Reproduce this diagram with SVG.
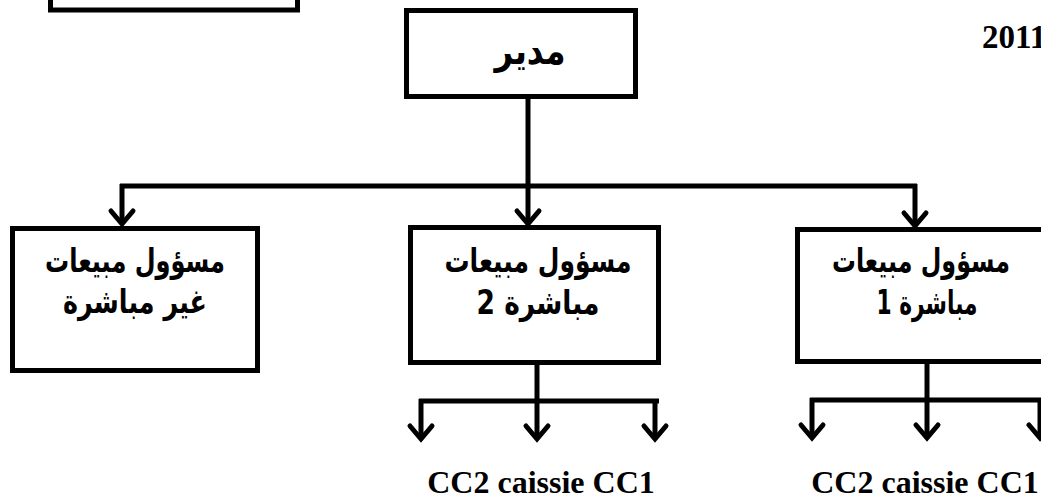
<svg xmlns="http://www.w3.org/2000/svg" width="1041" height="500" viewBox="0 0 1041 500">
  <style>
    .box { fill: #ffffff; stroke: #000000; stroke-width: 5; }
    .wire { fill: none; stroke: #000000; stroke-width: 5; stroke-linecap: butt; }
    .head { fill: none; stroke: #000000; stroke-width: 5; stroke-linecap: round; stroke-linejoin: miter; }
    .ar { font-family: "DejaVu Sans", "Noto Sans", sans-serif; font-weight: bold; font-size: 33px; fill: #000; text-anchor: middle; }
    .lat { font-family: "Liberation Serif", serif; font-weight: bold; font-size: 32px; fill: #000; text-anchor: middle; }
  </style>
  <defs>
    <path id="chev" d="M -11 -13 L 0 0 L 11 -13" class="head"/>
  </defs>
  <rect width="1041" height="500" fill="#ffffff"/>

  <g id="connectors">
    <!-- trunk from the director to the branch bar -->
    <path class="wire" d="M 528 98 V 186"/>
    <path class="wire" d="M 120 186 H 917"/>
    <path class="wire" d="M 122 184 V 224"/>
    <path class="wire" d="M 528 186 V 224"/>
    <path class="wire" d="M 915 184 V 226"/>
    <use href="#chev" x="122" y="224"/>
    <use href="#chev" x="528" y="224"/>
    <use href="#chev" x="915" y="226"/>

    <!-- middle sub-branch -->
    <path class="wire" d="M 537 364 V 401"/>
    <path class="wire" d="M 419 401 H 659"/>
    <path class="wire" d="M 421 399 V 439"/>
    <path class="wire" d="M 537 401 V 439"/>
    <path class="wire" d="M 655 399 V 439"/>
    <use href="#chev" x="421" y="439"/>
    <use href="#chev" x="537" y="439"/>
    <use href="#chev" x="655" y="439"/>

    <!-- right sub-branch -->
    <path class="wire" d="M 927 363 V 400"/>
    <path class="wire" d="M 810 400 H 1041"/>
    <path class="wire" d="M 812 398 V 438"/>
    <path class="wire" d="M 927 400 V 438"/>
    <path class="wire" d="M 1040 400 V 438"/>
    <use href="#chev" x="812" y="438"/>
    <use href="#chev" x="927" y="438"/>
    <use href="#chev" x="1040" y="438"/>
  </g>

  <g id="top-left-box">
    <rect class="box" x="50.5" y="-10" width="247" height="20"/>
  </g>

  <g id="director">
    <rect class="box" x="406.5" y="10.5" width="229" height="86"/>
    <text class="ar" x="530" y="64" style="font-size:38px" textLength="71" lengthAdjust="spacingAndGlyphs">مدير</text>
  </g>

  <g id="year">
    <text class="lat" x="982" y="48" style="font-size:33px; text-anchor:start">2011</text>
  </g>

  <g id="sales-indirect">
    <rect class="box" x="12.5" y="228.5" width="245" height="142"/>
    <text class="ar" x="135" y="272" textLength="180" lengthAdjust="spacingAndGlyphs">مسؤول مبيعات</text>
    <text class="ar" x="135" y="313" textLength="144" lengthAdjust="spacingAndGlyphs">غير مباشرة</text>
  </g>

  <g id="sales-direct-2">
    <rect class="box" x="410.5" y="227.5" width="248" height="135"/>
    <text class="ar" x="538" y="272" textLength="187" lengthAdjust="spacingAndGlyphs">مسؤول مبيعات</text>
    <text class="ar" x="538" y="314" textLength="123" lengthAdjust="spacingAndGlyphs">مباشرة 2</text>
  </g>

  <g id="sales-direct-1">
    <rect class="box" x="797.5" y="229.5" width="260" height="132"/>
    <text class="ar" x="921" y="272" textLength="178" lengthAdjust="spacingAndGlyphs">مسؤول مبيعات</text>
    <text class="ar" x="927" y="314" textLength="101" lengthAdjust="spacingAndGlyphs">مباشرة 1</text>
  </g>

  <g id="cash-labels">
    <text class="lat" x="541" y="493">CC2 caissie CC1</text>
    <text class="lat" x="925" y="493">CC2 caissie CC1</text>
  </g>
</svg>
